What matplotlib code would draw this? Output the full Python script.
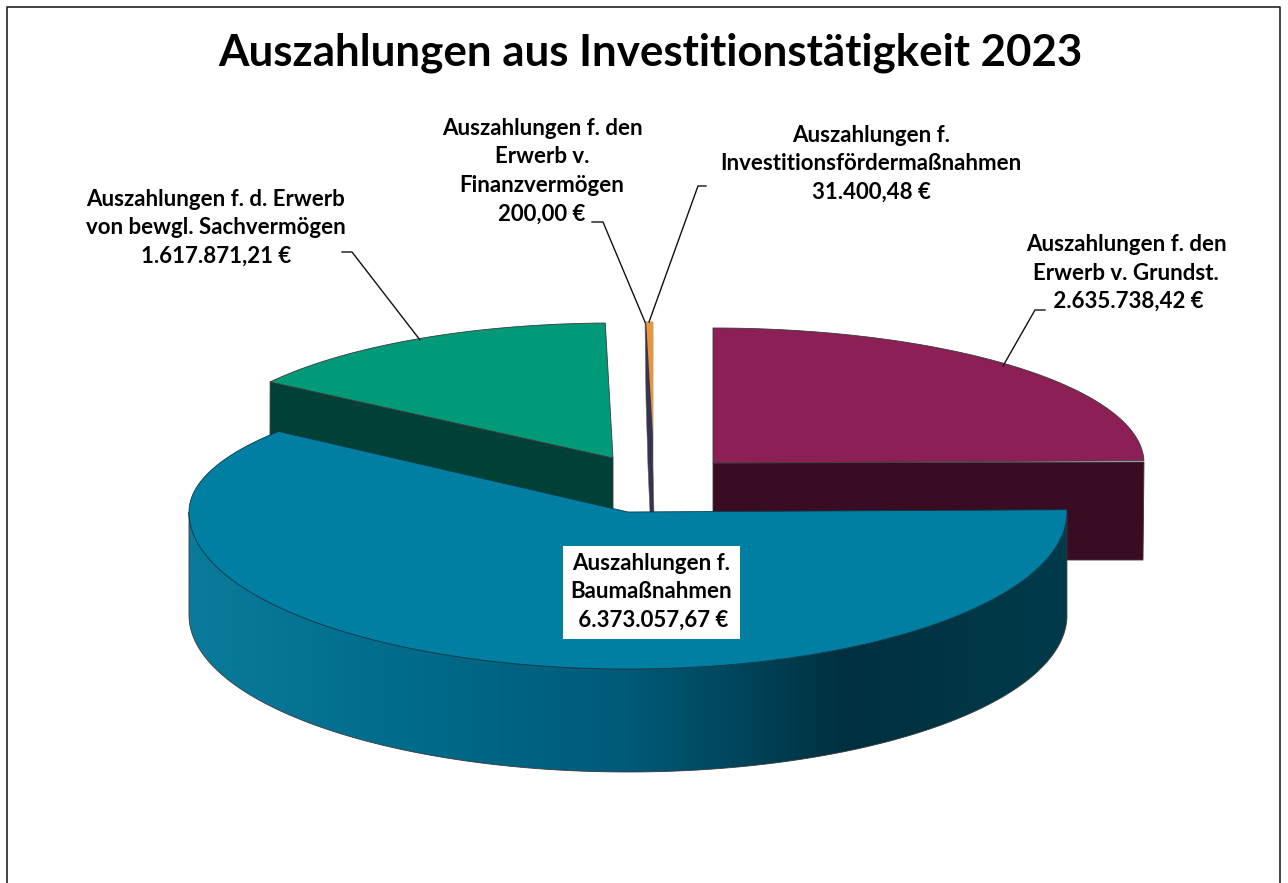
import numpy as np
import matplotlib
matplotlib.use("Agg")
import matplotlib.pyplot as plt
from matplotlib.patches import Polygon, Rectangle
from matplotlib.colors import LinearSegmentedColormap

plt.rcParams['font.family'] = ['Lato', 'DejaVu Sans']

title = "Auszahlungen aus Investitionstätigkeit 2023"

# order: clockwise from 12 o'clock
values = [2635738.42, 6373057.67, 1617871.21, 200.00, 31400.48]
labels = ["Auszahlungen f. den\nErwerb v. Grundst.\n 2.635.738,42 €",
          "Auszahlungen f.\nBaumaßnahmen\n 6.373.057,67 €",
          "Auszahlungen f. d. Erwerb\nvon bewgl. Sachvermögen\n1.617.871,21 €",
          "Auszahlungen f. den\nErwerb v.\nFinanzvermögen\n200,00 €",
          "Auszahlungen f.\nInvestitionsfördermaßnahmen\n31.400,48 €"]

# angles from the values
values = np.array(values)
edges = np.concatenate([[0], np.cumsum(values) / values.sum() * 360])


def arc(cx, cy, rx, ry_back, ry_front, a0, a1, dy=0):
    th = np.radians(np.linspace(a0, a1, 200))
    c = np.cos(th)
    ry = np.where(c > 0, ry_back, ry_front)
    return np.column_stack([cx + rx * np.sin(th), cy - ry * c + dy])


fig = plt.figure(figsize=(12.88, 8.83), dpi=100)
ax = fig.add_axes([0, 0, 1, 1])
ax.set_xlim(0, 1288)
ax.set_ylim(883, 0)
ax.axis('off')

# frame, open at the bottom
ax.plot([7, 7, 1280, 1280], [883, 7, 7, 883], color='#111111', lw=1.1)

edge = '#3a3a3a'

# purple slice
cx, cy = 713, 463
top = arc(cx, cy, 431, 135, 135, edges[0], edges[1])
ax.add_patch(Polygon([(cx, cy), (cx, cy + 97), (1143, 560), (1144, 462)], fc='#3a0c24', ec=edge, lw=0.6))
ax.add_patch(Polygon(np.vstack([[(cx, cy)], top]), fc='#8b1f56', ec=edge, lw=0.6))

# green slice
cx, cy = 613, 458
top = arc(cx, cy, 415, 135, 135, edges[2], edges[3])
ax.add_patch(Polygon([(cx, cy), (cx, cy + 52), (270, 437), top[0]], fc='#004035', ec=edge, lw=0.6))
ax.add_patch(Polygon(np.vstack([[(cx, cy)], top]), fc='#009a78', ec=edge, lw=0.6))

# the two thin slices
cx, cy = 653, 435
top = arc(cx, cy, 370, 113, 113, edges[3], edges[5])
ax.add_patch(Polygon([(645, 322), (646, 400), (647, 433), (648, 467), (650, 513), (654, 513), (653, 467), (653, 322)],
                     fc='#37324e', ec='#666666', lw=0.4))
ax.add_patch(Polygon(np.vstack([[(cx, cy)], top]), fc='#e8963a', ec='none'))

# blue slice: side with gradient, then top
cx, cy = 628, 512
depth = 103
front = arc(cx, cy, 439, 133, 157, 91, 270)
bottom = arc(cx, cy, 439, 133, 157, 91, 270, dy=depth)
side = Polygon(np.vstack([front, bottom[::-1]]), fc='none', ec=edge, lw=0.6, zorder=3)
ax.add_patch(side)
cmap = LinearSegmentedColormap.from_list('side', [(0, '#0a7b9c'), (0.25, '#006b8c'), (0.5, '#005a78'),
                                                  (0.75, '#00303f'), (1, '#003b4b')])
im = ax.imshow(np.linspace(0, 1, 400).reshape(1, -1), extent=[189, 1067, 790, 500], cmap=cmap, aspect='auto', zorder=2)
im.set_clip_path(side)
ax.set_xlim(0, 1288)
ax.set_ylim(883, 0)

# 3 degrees of perspective on the back edge
top = arc(cx, cy, 439, 133, 157, edges[1], edges[2] + 3)
ax.add_patch(Polygon(np.vstack([[(cx, cy)], top]), fc='#007fa3', ec='#0b3a4a', lw=0.6, zorder=4))

# leader lines
leaders = [([1045, 1035, 1003], [310, 310, 366]),
           ([342, 352, 420], [252, 252, 340]),
           ([592, 603, 645], [222, 222, 322]),
           ([706, 698, 649], [186, 186, 322])]
for xs, ys in leaders:
    ax.plot(xs, ys, color='#111111', lw=1.0, zorder=5)

# data labels
ax.add_patch(Rectangle((563, 546), 177, 93, fc='white', ec='none', zorder=5))
label_pos = [(1126, 273), (651, 592), (216, 228), (542, 171), (871, 164)]
for s, (x, y) in zip(labels, label_pos):
    ax.text(x, y, s, ha='center', va='center', multialignment='center', fontsize=16,
            fontweight='bold', color='black', linespacing=1.45, zorder=6)

ax.text(650, 53, title, ha='center', va='center', fontsize=31.6, fontweight='bold', color='black')

fig.savefig("out.png", dpi=100)
